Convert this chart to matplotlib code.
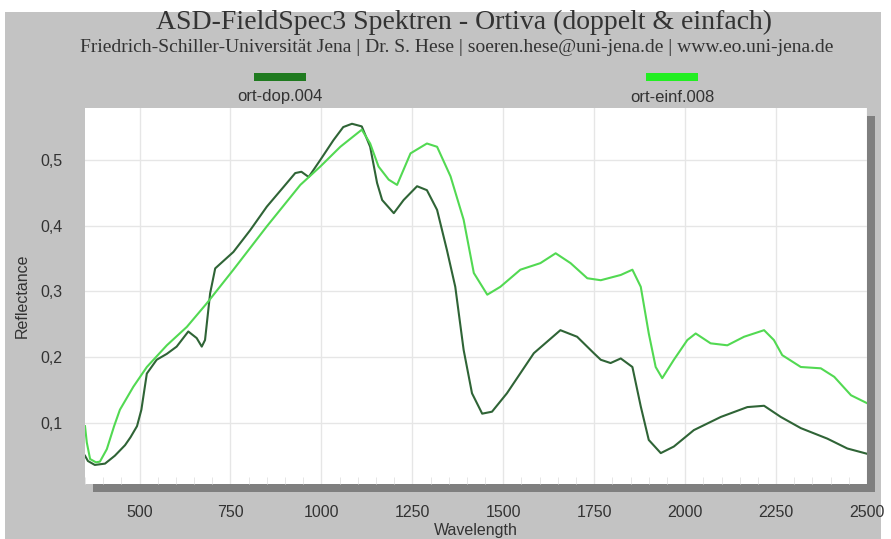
# -*- coding: utf-8 -*-

"""
Plots two ASD-FieldSpec3 reflectance spectra (Ortiva).
"""

import matplotlib.pyplot as plt
from matplotlib.patches import Rectangle
from matplotlib.ticker import FuncFormatter, MultipleLocator


TITLE = "ASD-FieldSpec3 Spektren - Ortiva (doppelt & einfach)"
SUBTITLE = (
    "Friedrich-Schiller-Universität Jena | Dr. S. Hese | "
    "soeren.hese@uni-jena.de | www.eo.uni-jena.de"
)

SERIES_NAMES = ["ort-dop.004", "ort-einf.008"]

DOP_WAVELENGTH = [
    350, 358, 377, 405, 432, 460, 475, 493, 505, 520,
    547, 575, 602, 634, 657, 671, 680, 694, 708, 758,
    804, 850, 896, 928, 945, 965, 997, 1033, 1060, 1084,
    1111, 1134, 1153, 1167, 1199, 1226, 1263, 1290, 1318, 1345,
    1368, 1391, 1414, 1442, 1469, 1510, 1584, 1657, 1703, 1749,
    1768, 1795, 1823, 1855, 1878, 1900, 1933, 1969, 2024, 2098,
    2171, 2217, 2263, 2318, 2391, 2446, 2500,
]
DOP_REFLECTANCE = [
    0.050, 0.042, 0.036, 0.038, 0.050, 0.066, 0.078, 0.095, 0.120, 0.175,
    0.196, 0.205, 0.216, 0.239, 0.229, 0.216, 0.226, 0.297, 0.335, 0.360,
    0.393, 0.429, 0.459, 0.480, 0.482, 0.474, 0.500, 0.530, 0.550, 0.555,
    0.551, 0.520, 0.465, 0.439, 0.419, 0.439, 0.460, 0.454, 0.424, 0.363,
    0.307, 0.211, 0.145, 0.114, 0.117, 0.145, 0.206, 0.241, 0.231, 0.206,
    0.196, 0.191, 0.198, 0.185, 0.125, 0.074, 0.054, 0.064, 0.089, 0.109,
    0.124, 0.126, 0.109, 0.092, 0.076, 0.061, 0.053,
]

EINF_WAVELENGTH = [
    350, 355, 364, 380, 391, 410, 430, 446, 483, 520,
    575, 630, 685, 758, 850, 942, 997, 1052, 1111, 1134,
    1157, 1185, 1208, 1245, 1290, 1318, 1355, 1391, 1419, 1456,
    1492, 1547, 1602, 1644, 1685, 1731, 1768, 1823, 1855, 1878,
    1900, 1919, 1937, 1969, 2006, 2029, 2070, 2116, 2162, 2217,
    2244, 2267, 2318, 2373, 2410, 2456, 2500,
]
EINF_REFLECTANCE = [
    0.095, 0.070, 0.045, 0.040, 0.041, 0.060, 0.095, 0.120, 0.155, 0.185,
    0.218, 0.246, 0.282, 0.333, 0.399, 0.462, 0.490, 0.520, 0.546, 0.525,
    0.490, 0.470, 0.462, 0.510, 0.525, 0.520, 0.475, 0.409, 0.328, 0.295,
    0.307, 0.333, 0.343, 0.358, 0.343, 0.320, 0.317, 0.325, 0.333, 0.307,
    0.236, 0.185, 0.168, 0.196, 0.226, 0.236, 0.221, 0.218, 0.231, 0.241,
    0.226, 0.203, 0.185, 0.183, 0.170, 0.142, 0.130,
]

X_TICKS = [500, 750, 1000, 1250, 1500, 1750, 2000, 2250, 2500]
Y_TICKS = [0.1, 0.2, 0.3, 0.4, 0.5]

WIDTH_PX = 891
HEIGHT_PX = 539

BACKGROUND = "#c3c3c3"
SHADOW = "#7f7f7f"
TEXT_COLOR = "#333333"
LINE_COLORS = ["#2f6436", "#52d952"]
SWATCH_COLORS = ["#1f7a1f", "#22ee22"]

plt.rcParams["font.family"] = ["Liberation Sans", "DejaVu Sans"]


def fig_box(x0, y0, x1, y1):
    """Converts pixel corners (top-left origin) to figure fractions."""

    return (
        x0 / WIDTH_PX,
        1 - y1 / HEIGHT_PX,
        (x1 - x0) / WIDTH_PX,
        (y1 - y0) / HEIGHT_PX,
    )


def add_box(fig, corners, color, zorder=1):
    """Adds a filled rectangle given in pixel corners."""

    left, bottom, width, height = fig_box(*corners)

    fig.patches.append(
        Rectangle(
            (left, bottom), width, height,
            transform=fig.transFigure,
            facecolor=color,
            edgecolor="none",
            zorder=zorder,
        )
    )


fig = plt.figure(figsize=(8.91, 5.39), dpi=100)
fig.patch.set_facecolor("white")

# gray chart background and drop shadow behind the plot area
add_box(fig, (5, 12, 881, 539), BACKGROUND, zorder=-3)
add_box(fig, (93, 116, 875, 492), SHADOW, zorder=-2)

ax = fig.add_axes(fig_box(85, 108, 867, 484))
ax.set_facecolor("white")

ax.plot(
    DOP_WAVELENGTH,
    DOP_REFLECTANCE,
    color=LINE_COLORS[0],
    linewidth=1.5,
    zorder=3,
)
ax.plot(
    EINF_WAVELENGTH,
    EINF_REFLECTANCE,
    color=LINE_COLORS[1],
    linewidth=1.5,
    zorder=4,
)

ax.set_xlim(350, 2500)
ax.set_ylim(0.007, 0.579)

ax.set_xticks(X_TICKS)
ax.set_yticks(Y_TICKS)
ax.xaxis.set_minor_locator(MultipleLocator(50))
ax.yaxis.set_major_formatter(
    FuncFormatter(lambda value, pos: f"{value:.1f}".replace(".", ","))
)

ax.grid(True, which="major", color="#e6e6e6", linewidth=1.0, zorder=0)
ax.tick_params(
    axis="both",
    which="major",
    length=0,
    labelsize=11.5,
    labelcolor=TEXT_COLOR,
)
ax.tick_params(axis="x", which="major", pad=15)
ax.tick_params(axis="y", which="major", pad=16)
ax.tick_params(
    axis="x",
    which="minor",
    direction="in",
    length=5,
    color="#e2e2e2",
)

for spine in ax.spines.values():
    spine.set_visible(False)

ax.set_xlabel("Wavelength", fontsize=11.5, color=TEXT_COLOR)
ax.set_ylabel("Reflectance", fontsize=11.5, color=TEXT_COLOR)
ax.xaxis.set_label_coords(0.5, -0.105)
ax.yaxis.set_label_coords(-0.071, 0.5)

fig.text(
    0.521, 1 - 22 / HEIGHT_PX,
    TITLE,
    ha="center", va="center",
    fontsize=20,
    family="Liberation Serif",
    color=TEXT_COLOR,
)
fig.text(
    0.513, 1 - 47 / HEIGHT_PX,
    SUBTITLE,
    ha="center", va="center",
    fontsize=14,
    family="Liberation Serif",
    color=TEXT_COLOR,
)

# legend: colour swatch above each series name
for name, color, center_px in zip(
    SERIES_NAMES,
    SWATCH_COLORS,
    [280, 672],
):
    add_box(
        fig,
        (center_px - 26, 73, center_px + 26, 81),
        color,
    )
    fig.text(
        center_px / WIDTH_PX, 1 - 97 / HEIGHT_PX,
        name,
        ha="center", va="center",
        fontsize=12,
        color=TEXT_COLOR,
    )

plt.savefig("out.png", dpi=100)
plt.close()
